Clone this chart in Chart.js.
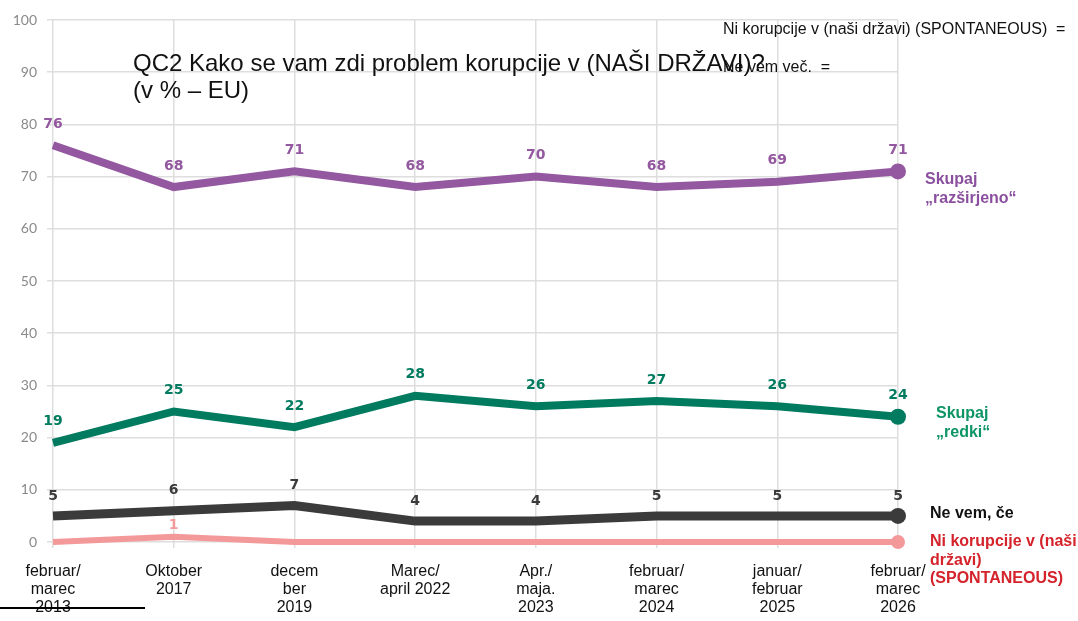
<!DOCTYPE html>
<html>
<head>
<meta charset="utf-8">
<script src="https://cdn.jsdelivr.net/npm/chart.js@4.4.1/dist/chart.umd.min.js"></script>
<style>
    body { margin: 0; background: #fff; }
    #wrap { position: relative; width: 1078px; height: 621px; overflow: hidden; }
    .txt { position: absolute; font-family: "Liberation Sans", Arial, sans-serif; white-space: nowrap; }
    .title { left: 133px; top: 49px; font-size: 24px; line-height: 27px; color: #111; }
    .note { left: 723px; font-size: 16px; color: #111; }
    .side { font-size: 16px; line-height: 18.5px; font-weight: bold; }
    #cut { position: absolute; left: 0; top: 607px; width: 145px; height: 2px; background: #000; }
</style>
</head>
<body>
<div id="wrap">
    <canvas id="lineChart" width="1078" height="621"></canvas>

    <div class="txt title">QC2 Kako se vam zdi problem korupcije v (NAŠI DRŽAVI)?<br>(v % – EU)</div>
    <div class="txt note" style="top:20px">Ni korupcije v (naši državi) (SPONTANEOUS)&nbsp; =</div>
    <div class="txt note" style="top:58px">Ne vem več.&nbsp; =</div>

    <div class="txt side" style="left:925px;top:170px;color:#8a4f9e">Skupaj<br>„razširjeno“</div>
    <div class="txt side" style="left:936px;top:404px;color:#0e9565">Skupaj<br>„redki“</div>
    <div class="txt side" style="left:930px;top:504px;color:#111">Ne vem, če</div>
    <div class="txt side" style="left:930px;top:532px;color:#d4232b">Ni korupcije v (naši<br>državi)<br>(SPONTANEOUS)</div>

    <div id="cut"></div>
</div>

<script>
const categories = [
    ['februar/', 'marec', '2013'],
    ['Oktober', '2017'],
    ['decem', 'ber', '2019'],
    ['Marec/', 'april 2022'],
    ['Apr./', 'maja.', '2023'],
    ['februar/', 'marec', '2024'],
    ['januar/', 'februar', '2025'],
    ['februar/', 'marec', '2026']
];

const razsirjeno = [76, 68, 71, 68, 70, 68, 69, 71];
const redki = [19, 25, 22, 28, 26, 27, 26, 24];
const neVem = [5, 6, 7, 4, 4, 5, 5, 5];
const niKorupcije = [0, 1, 0, 0, 0, 0, 0, 0];

const yMin = 0;
const yMax = 100;
const yStep = 10;

// only the last point gets a round marker
function lastDot(arr, r){
    return arr.map((v, i) => i === arr.length - 1 ? r : 0);
}

function series(data, color, width, dot, labelGap){
    return {
        data: data,
        borderColor: color,
        backgroundColor: color,
        borderWidth: width,
        pointRadius: lastDot(data, dot),
        pointHoverRadius: lastDot(data, dot),
        pointBorderWidth: 0,
        tension: 0,
        clip: false,
        labelGap: labelGap
    };
}

const valueLabels = {
    id: 'valueLabels',
    afterDatasetsDraw(chart){
        const ctx = chart.ctx;
        ctx.save();
        ctx.font = 'bold 14px "DejaVu Sans", sans-serif';
        ctx.textAlign = 'center';
        ctx.textBaseline = 'middle';
        chart.data.datasets.forEach((ds, i) => {
            const meta = chart.getDatasetMeta(i);
            meta.data.forEach((pt, j) => {
                const v = ds.data[j];
                if(v === 0) return;
                ctx.fillStyle = ds.borderColor;
                ctx.fillText(String(v), pt.x, pt.y - ds.labelGap);
            });
        });
        ctx.restore();
    }
};

const line = document.getElementById('lineChart');

new Chart(line, {
    type: 'line',

    data: {
        labels: categories,
        datasets: [
            series(niKorupcije, '#f4999a', 6, 7, 11),
            series(neVem, '#3b3b3b', 9, 8, 20),
            series(redki, '#007b5f', 8, 8, 21),
            series(razsirjeno, '#93589f', 8, 8, 21)
        ]
    },

    options: {
        responsive: false,
        animation: false,
        events: [],
        layout: {
            padding: { top: 20, right: 180, left: 0, bottom: 0 }
        },
        plugins: {
            legend: { display: false },
            tooltip: { enabled: false }
        },
        scales: {
            x: {
                offset: false,
                border: { display: false },
                grid: { color: '#dedede', lineWidth: 1.5, tickLength: 6 },
                ticks: {
                    color: '#111',
                    maxRotation: 0,
                    autoSkip: false,
                    padding: 14,
                    font: { family: '"Liberation Sans", Arial, sans-serif', size: 16, lineHeight: 1.15 }
                },
                afterFit(scale){ scale.height = 79; }
            },
            y: {
                min: yMin,
                max: yMax,
                border: { display: false },
                grid: { color: '#dedede', lineWidth: 1.5, tickLength: 6 },
                ticks: {
                    stepSize: yStep,
                    color: '#8a8a8a',
                    padding: 10,
                    font: { family: 'Lato, sans-serif', size: 14 }
                },
                afterFit(scale){ scale.width = 53; }
            }
        }
    },

    plugins: [valueLabels]
});
</script>
</body>
</html>
